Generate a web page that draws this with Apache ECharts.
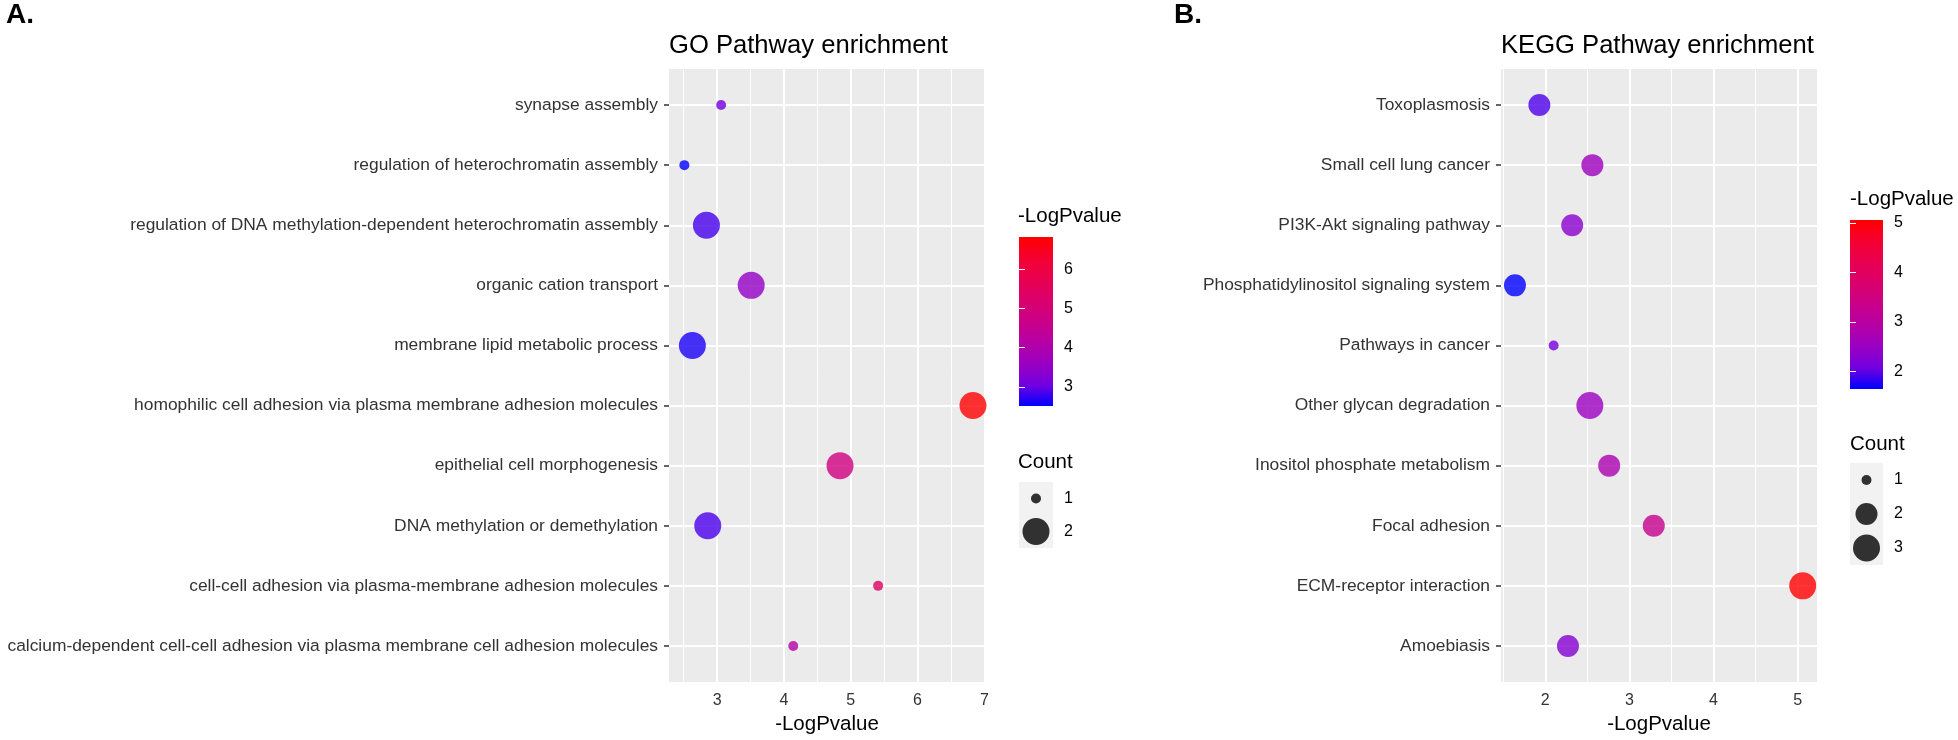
<!DOCTYPE html>
<html>
<head>
<meta charset="utf-8">
<script src="https://cdn.jsdelivr.net/npm/echarts@6/dist/echarts.min.js"></script>
<style>
html, body { margin: 0; padding: 0; background: #fff; }
#main { width: 1958px; height: 740px; }
</style>
</head>
<body>
<div id="main"></div>
<script>
// GO terms, listed top to bottom as in the figure
const goTerms = [
    'synapse assembly',
    'regulation of heterochromatin assembly',
    'regulation of DNA methylation-dependent heterochromatin assembly',
    'organic cation transport',
    'membrane lipid metabolic process',
    'homophilic cell adhesion via plasma membrane adhesion molecules',
    'epithelial cell morphogenesis',
    'DNA methylation or demethylation',
    'cell-cell adhesion via plasma-membrane adhesion molecules',
    'calcium-dependent cell-cell adhesion via plasma membrane cell adhesion molecules'
]
const goLogP = [3.06, 2.51, 2.84, 3.51, 2.63, 6.83, 4.84, 2.86, 5.41, 4.14]
const goCount = [1, 1, 2, 2, 2, 2, 2, 2, 1, 1]
const goTicks = [3, 4, 5, 6, 7]
const goMinor = [2.5, 3.5, 4.5, 5.5, 6.5]
const goColorTicks = [3, 4, 5, 6]
const goCountKeys = [1, 2]

// KEGG pathways, top to bottom
const keggTerms = [
    'Toxoplasmosis',
    'Small cell lung cancer',
    'PI3K-Akt signaling pathway',
    'Phosphatidylinositol signaling system',
    'Pathways in cancer',
    'Other glycan degradation',
    'Inositol phosphate metabolism',
    'Focal adhesion',
    'ECM-receptor interaction',
    'Amoebiasis'
]
const keggLogP = [1.93, 2.56, 2.32, 1.64, 2.10, 2.53, 2.76, 3.29, 5.06, 2.27]
const keggCount = [2, 2, 2, 2, 1, 3, 2, 2, 3, 2]
const keggTicks = [2, 3, 4, 5]
const keggMinor = [1.5, 2.5, 3.5, 4.5]
const keggColorTicks = [2, 3, 4, 5]
const keggCountKeys = [1, 2, 3]

// blue -> red ramp (Lab-like, as ggplot does it)
const ramp = ['#0000FF', '#7300E0', '#9A00C2', '#B500A5', '#CA0089', '#DA006C', '#E80050', '#F40031', '#FF0000']

const FONT = 'Liberation Sans, Arial, sans-serif'
const axisGrey = '#333'

function sizeFn(cmin, cmax) {
    return function (val) {
        let t = cmax > cmin ? (val[2] - cmin) / (cmax - cmin) : 1
        return 10 + 17 * Math.sqrt(t)
    }
}

function colorBarItem(params, api) {
    let p0 = api.coord([api.value(0), api.value(1)])
    let p1 = api.coord([api.value(2), api.value(3)])
    return {
        type: 'rect',
        shape: { x: p0[0], y: p1[1], width: p1[0] - p0[0], height: p0[1] - p1[1] },
        style: {
            fill: new echarts.graphic.LinearGradient(0, 1, 0, 0,
                ramp.map((c, i) => ({ offset: i / (ramp.length - 1), color: c })))
        }
    }
}

// white panel grid lines (major + minor), like ggplot's grey theme
function gridLines(major, minor, n) {
    let data = []
    major.forEach(v => data.push({ xAxis: v, lineStyle: { width: 2 } }))
    minor.forEach(v => data.push({ xAxis: v, lineStyle: { width: 1 } }))
    for (let i = 0; i < n; i++) data.push({ yAxis: i, lineStyle: { width: 2 } })
    return {
        silent: true,
        symbol: ['none', 'none'],
        label: { show: false },
        lineStyle: { color: '#fff', type: 'solid' },
        emphasis: { disabled: true },
        animation: false,
        data: data
    }
}

const goMin = Math.min(...goLogP), goMax = Math.max(...goLogP)
const keggMin = Math.min(...keggLogP), keggMax = Math.max(...keggLogP)
const idx = n => Array.from({ length: n }, (_, i) => i)

function mainX(grid, min, max, ticks) {
    return {
        gridIndex: grid, type: 'value', min: min, max: max,
        name: '-LogPvalue', nameLocation: 'middle', nameGap: 32,
        nameTextStyle: { fontSize: 20.5, color: '#000' },
        axisLine: { show: false },
        axisTick: { show: true, customValues: ticks, length: 5, lineStyle: { color: '#333', width: 1.5 } },
        axisLabel: { customValues: ticks, fontSize: 16, color: axisGrey, margin: 11 },
        splitLine: { show: false }
    }
}
function mainY(grid, terms) {
    return {
        gridIndex: grid, type: 'value', inverse: true, min: -0.6, max: terms.length - 0.4,
        axisLine: { show: false },
        axisTick: { show: true, customValues: idx(terms.length), length: 5, lineStyle: { color: '#333', width: 1.5 } },
        axisLabel: { customValues: idx(terms.length), fontSize: 17.4, color: axisGrey, margin: 11,
            formatter: v => terms[Math.round(v)] },
        splitLine: { show: false }
    }
}
function hiddenX(grid) {
    return { gridIndex: grid, type: 'value', min: 0, max: 1, show: false }
}
function barY(grid, min, max, ticks, pos) {
    return {
        gridIndex: grid, type: 'value', min: min, max: max, position: pos, z: 5,
        axisLine: { show: false },
        axisTick: { show: true, inside: true, customValues: ticks, length: 6, lineStyle: { color: '#fff', width: 1 } },
        axisLabel: { show: pos === 'right', customValues: ticks, fontSize: 16, color: '#000', margin: 11 },
        splitLine: { show: false }
    }
}
function keyY(grid, keys) {
    return {
        gridIndex: grid, type: 'category', inverse: true, position: 'right',
        data: keys.map(String),
        axisLine: { show: false }, axisTick: { show: false },
        axisLabel: { fontSize: 16, color: '#000', margin: 11 },
        splitLine: { show: false }
    }
}
function txt(text, left, top, size, bold) {
    return { text: text, left: left, top: top, padding: 0,
        textStyle: { fontSize: size, fontWeight: bold ? 'bold' : 'normal', color: '#000', fontFamily: FONT } }
}

let chart = echarts.init(document.getElementById('main'))
chart.setOption({
    animation: false,
    backgroundColor: '#fff',
    textStyle: { fontFamily: FONT },
    title: [
        txt('A.', 6, 1, 28, true),
        txt('B.', 1174, 1, 28, true),
        txt('GO Pathway enrichment', 669, 33, 25.6),
        txt('KEGG Pathway enrichment', 1501, 33, 25.6),
        txt('-LogPvalue', 1018, 206, 20.5),
        txt('Count', 1018, 452, 20.5),
        txt('-LogPvalue', 1850, 189, 20.5),
        txt('Count', 1850, 434, 20.5)
    ],
    grid: [
        { left: 669, top: 69, width: 316, height: 614, show: true, backgroundColor: '#EBEBEB', borderWidth: 0 },
        { left: 1019, top: 237, width: 34, height: 169, show: false },
        { left: 1019, top: 482, width: 34, height: 66, show: true, backgroundColor: '#F2F2F2', borderWidth: 0 },
        { left: 1501, top: 69, width: 316, height: 614, show: true, backgroundColor: '#EBEBEB', borderWidth: 0 },
        { left: 1850, top: 220, width: 33, height: 169, show: false },
        { left: 1850, top: 463, width: 33, height: 102, show: true, backgroundColor: '#F2F2F2', borderWidth: 0 }
    ],
    xAxis: [
        mainX(0, 2.28, 7.01, goTicks),
        hiddenX(1),
        hiddenX(2),
        mainX(3, 1.474, 5.23, keggTicks),
        hiddenX(4),
        hiddenX(5)
    ],
    yAxis: [
        mainY(0, goTerms),
        barY(1, goMin, goMax, goColorTicks, 'right'),
        barY(1, goMin, goMax, goColorTicks, 'left'),
        keyY(2, goCountKeys),
        mainY(3, keggTerms),
        barY(4, keggMin, keggMax, keggColorTicks, 'right'),
        barY(4, keggMin, keggMax, keggColorTicks, 'left'),
        keyY(5, keggCountKeys)
    ],
    visualMap: [
        { type: 'continuous', show: false, seriesIndex: 0, dimension: 0, min: goMin, max: goMax, inRange: { color: ramp } },
        { type: 'continuous', show: false, seriesIndex: 3, dimension: 0, min: keggMin, max: keggMax, inRange: { color: ramp } }
    ],
    series: [
        {
            type: 'scatter', xAxisIndex: 0, yAxisIndex: 0, z: 10,
            data: goLogP.map((v, i) => [v, i, goCount[i]]),
            symbolSize: sizeFn(1, 2),
            markLine: gridLines(goTicks, goMinor, goTerms.length)
        },
        {
            type: 'custom', xAxisIndex: 1, yAxisIndex: 1, silent: true,
            data: [[0, goMin, 1, goMax]],
            renderItem: colorBarItem
        },
        {
            type: 'scatter', xAxisIndex: 2, yAxisIndex: 3, silent: true,
            itemStyle: { color: '#000' },
            data: goCountKeys.map((c, i) => [0.5, i, c]),
            symbolSize: sizeFn(1, 2)
        },
        {
            type: 'scatter', xAxisIndex: 3, yAxisIndex: 4, z: 10,
            data: keggLogP.map((v, i) => [v, i, keggCount[i]]),
            symbolSize: sizeFn(1, 3),
            markLine: gridLines(keggTicks, keggMinor, keggTerms.length)
        },
        {
            type: 'custom', xAxisIndex: 4, yAxisIndex: 5, silent: true,
            data: [[0, keggMin, 1, keggMax]],
            renderItem: colorBarItem
        },
        {
            type: 'scatter', xAxisIndex: 5, yAxisIndex: 7, silent: true,
            itemStyle: { color: '#000' },
            data: keggCountKeys.map((c, i) => [0.5, i, c]),
            symbolSize: sizeFn(1, 3)
        }
    ]
})
</script>
</body>
</html>
